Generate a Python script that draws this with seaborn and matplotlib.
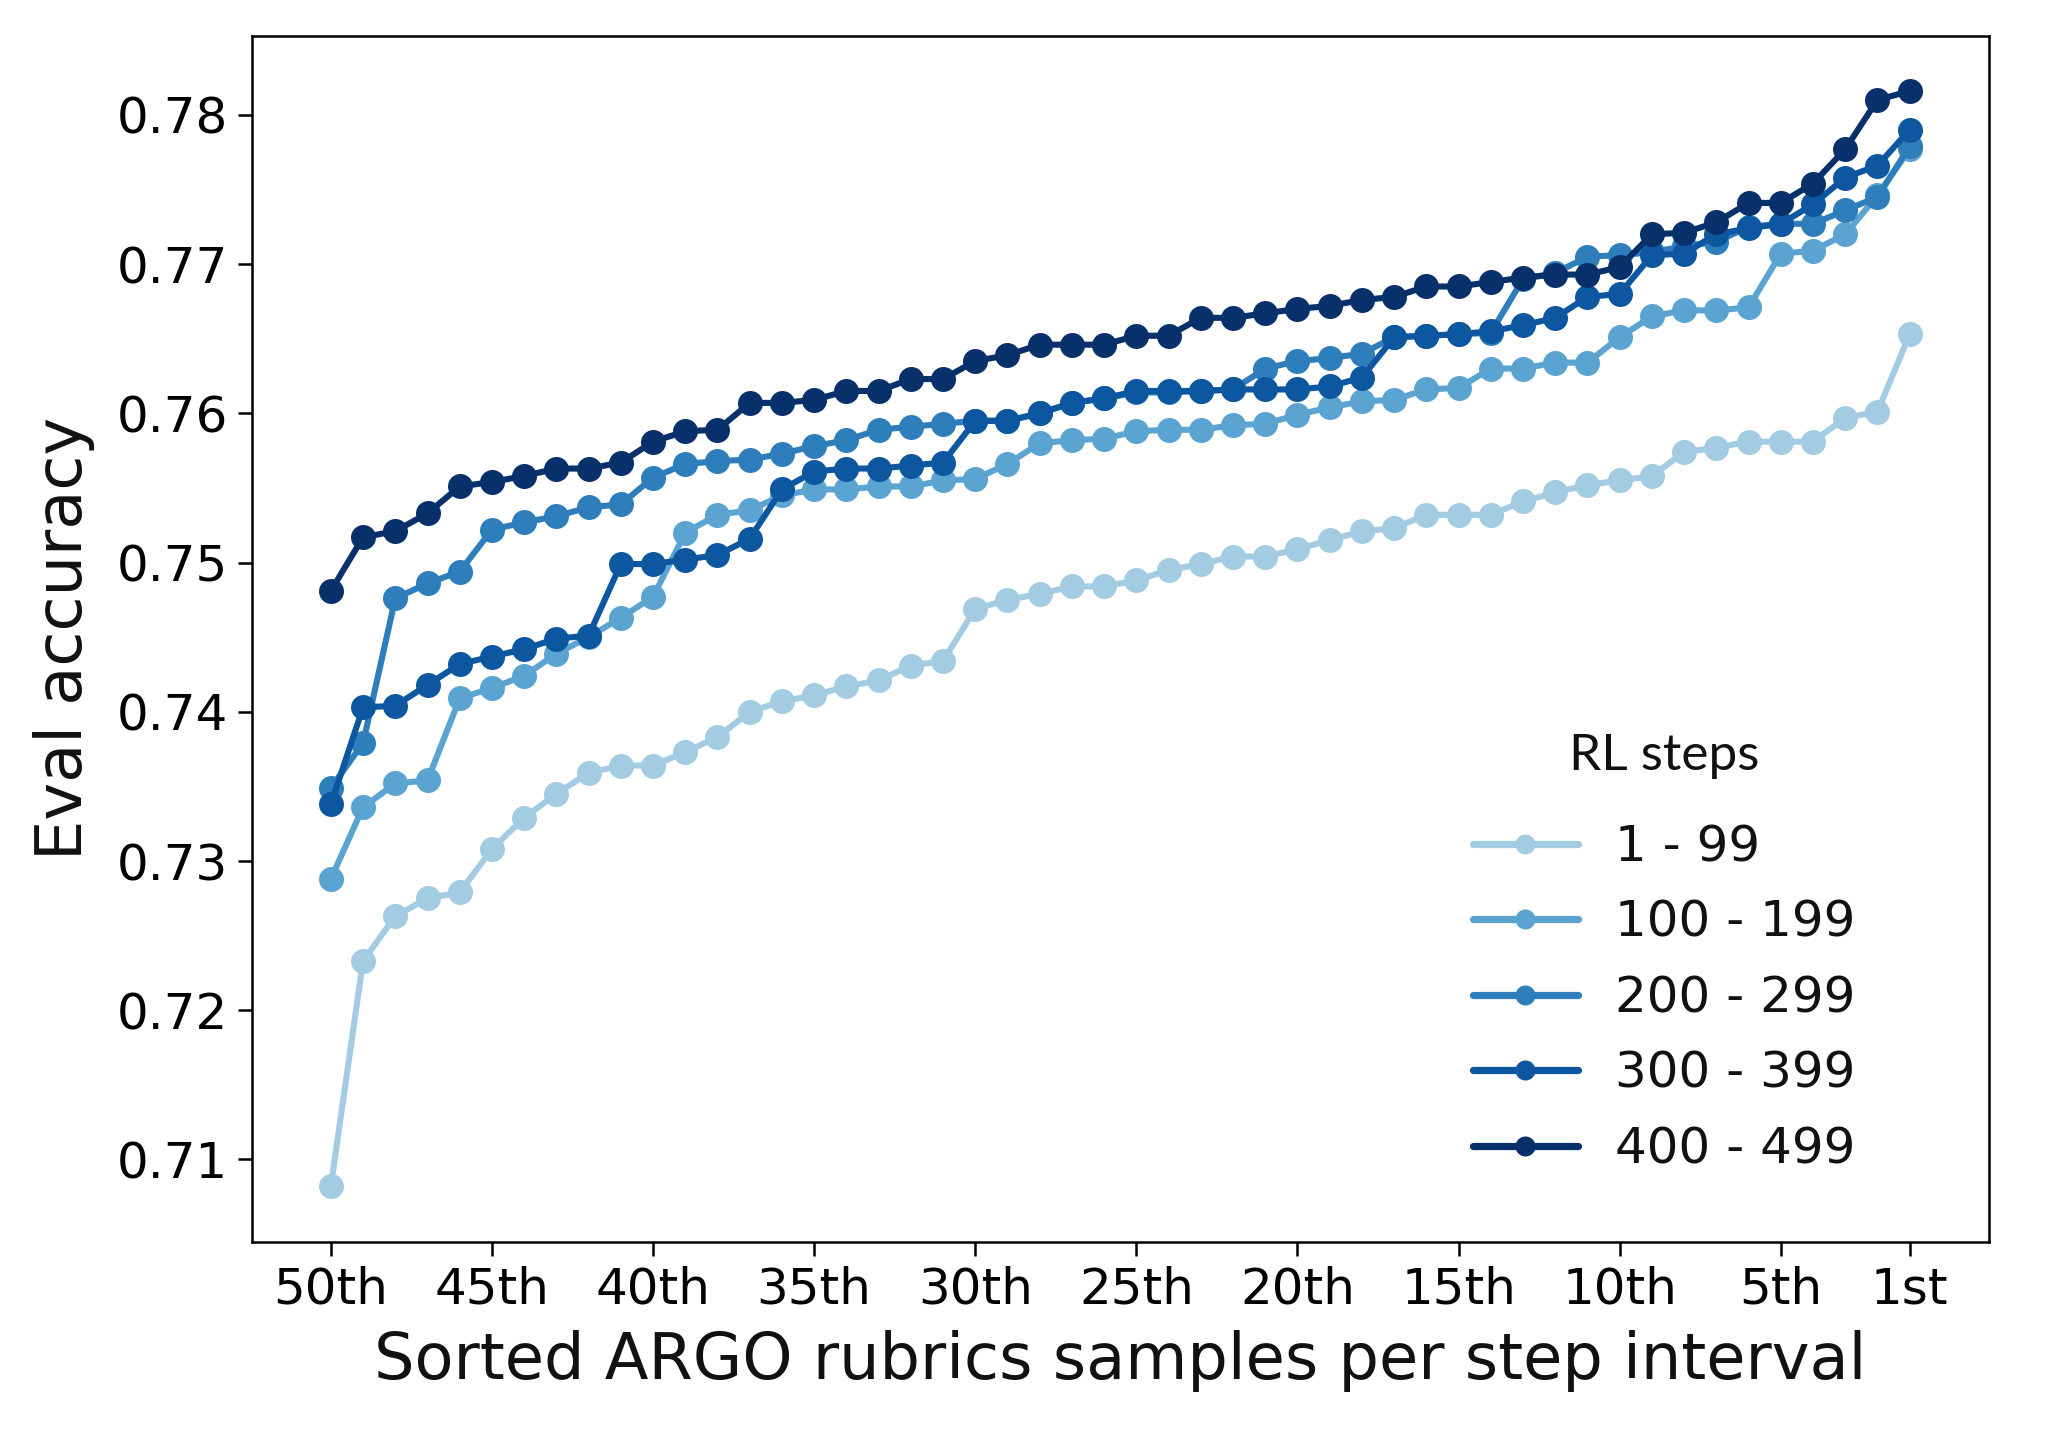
import numpy as np
import pandas as pd
import matplotlib
matplotlib.use("Agg")
import matplotlib.pyplot as plt
import seaborn as sns

# rank of the ARGO rubrics sample inside each step interval (50th ... 1st)
ranks = list(range(50, 0, -1))
tick_ranks = [50, 45, 40, 35, 30, 25, 20, 15, 10, 5, 1]
tick_labels = ["50th", "45th", "40th", "35th", "30th", "25th", "20th",
               "15th", "10th", "5th", "1st"]

step_groups = ["1 - 99", "100 - 199", "200 - 299", "300 - 399", "400 - 499"]

acc_1_99 = [0.7082, 0.7233, 0.7263, 0.7275, 0.7279, 0.7308, 0.7329, 0.7345, 0.7359, 0.7364,
            0.7364, 0.7373, 0.7383, 0.7400, 0.7407, 0.7411, 0.7417, 0.7421, 0.7431, 0.7434,
            0.7469, 0.7475, 0.7479, 0.7484, 0.7484, 0.7488, 0.7495, 0.7499, 0.7504, 0.7504,
            0.7509, 0.7515, 0.7521, 0.7523, 0.7532, 0.7532, 0.7532, 0.7541, 0.7547, 0.7552,
            0.7555, 0.7558, 0.7574, 0.7577, 0.7581, 0.7581, 0.7581, 0.7597, 0.7601, 0.7653]
acc_100_199 = [0.7288, 0.7336, 0.7352, 0.7354, 0.7409, 0.7416, 0.7424, 0.7439, 0.7450, 0.7463,
               0.7477, 0.7520, 0.7532, 0.7535, 0.7545, 0.7549, 0.7549, 0.7551, 0.7551, 0.7555,
               0.7556, 0.7566, 0.7580, 0.7582, 0.7583, 0.7588, 0.7589, 0.7589, 0.7592, 0.7593,
               0.7599, 0.7604, 0.7608, 0.7609, 0.7616, 0.7617, 0.7630, 0.7630, 0.7634, 0.7634,
               0.7651, 0.7665, 0.7669, 0.7669, 0.7671, 0.7707, 0.7709, 0.7720, 0.7746, 0.7777]
acc_200_299 = [0.7349, 0.7379, 0.7476, 0.7486, 0.7494, 0.7522, 0.7527, 0.7531, 0.7537, 0.7539,
               0.7557, 0.7566, 0.7568, 0.7569, 0.7573, 0.7578, 0.7582, 0.7589, 0.7591, 0.7593,
               0.7595, 0.7595, 0.7600, 0.7607, 0.7610, 0.7614, 0.7614, 0.7615, 0.7616, 0.7630,
               0.7635, 0.7637, 0.7640, 0.7651, 0.7652, 0.7653, 0.7654, 0.7690, 0.7694, 0.7705,
               0.7706, 0.7708, 0.7712, 0.7715, 0.7725, 0.7727, 0.7727, 0.7736, 0.7745, 0.7779]
acc_300_399 = [0.7338, 0.7403, 0.7404, 0.7418, 0.7432, 0.7437, 0.7442, 0.7449, 0.7451, 0.7499,
               0.7499, 0.7502, 0.7505, 0.7516, 0.7549, 0.7561, 0.7563, 0.7563, 0.7565, 0.7567,
               0.7595, 0.7595, 0.7600, 0.7607, 0.7610, 0.7615, 0.7615, 0.7615, 0.7616, 0.7616,
               0.7616, 0.7618, 0.7624, 0.7651, 0.7652, 0.7653, 0.7655, 0.7659, 0.7664, 0.7678,
               0.7680, 0.7706, 0.7707, 0.7720, 0.7724, 0.7727, 0.7740, 0.7758, 0.7766, 0.7790]
acc_400_499 = [0.7481, 0.7517, 0.7521, 0.7533, 0.7551, 0.7554, 0.7558, 0.7563, 0.7563, 0.7567,
               0.7581, 0.7588, 0.7589, 0.7607, 0.7607, 0.7609, 0.7615, 0.7615, 0.7623, 0.7623,
               0.7635, 0.7639, 0.7646, 0.7646, 0.7646, 0.7652, 0.7652, 0.7664, 0.7664, 0.7667,
               0.7670, 0.7672, 0.7676, 0.7678, 0.7685, 0.7685, 0.7688, 0.7691, 0.7693, 0.7693,
               0.7698, 0.7720, 0.7721, 0.7728, 0.7741, 0.7741, 0.7754, 0.7777, 0.7810, 0.7816]

y_ticks = [0.71, 0.72, 0.73, 0.74, 0.75, 0.76, 0.77, 0.78]


def main():
    series = [acc_1_99, acc_100_199, acc_200_299, acc_300_399, acc_400_499]
    # position on the x axis: 50th sample on the left, 1st on the right
    pos = [50 - r for r in ranks]
    rows = []
    for group, vals in zip(step_groups, series):
        for p, v in zip(pos, vals):
            rows.append({"pos": p, "acc": v, "RL steps": group})
    df = pd.DataFrame(rows)

    sns.set_theme(style="ticks")
    plt.rcParams["font.family"] = ["DejaVu Sans"]
    plt.rcParams["axes.edgecolor"] = "black"
    plt.rcParams["xtick.color"] = "black"
    plt.rcParams["ytick.color"] = "black"
    plt.rcParams["text.color"] = "#111111"
    plt.rcParams["axes.labelcolor"] = "#111111"

    blues = matplotlib.colormaps["Blues"]
    palette = [blues(v) for v in [0.36, 0.55, 0.7, 0.85, 1.0]]

    fig = plt.figure(figsize=(10.24, 7.16), dpi=200)
    ax = fig.add_axes([0.123, 0.133, 0.848, 0.842])

    sns.lineplot(data=df, x="pos", y="acc", hue="RL steps", hue_order=step_groups,
                 palette=palette, marker="o", markersize=9, markeredgewidth=0,
                 linewidth=2.2, sort=False, ax=ax)

    ax.set_ylim(0.7045, 0.7853)
    ax.set_yticks(y_ticks)
    ax.set_yticklabels([f"{t:.2f}" for t in y_ticks])
    ax.set_xticks([50 - r for r in tick_ranks])
    ax.set_xticklabels(tick_labels)
    ax.tick_params(axis="both", labelsize=18, length=5, width=0.9)
    for s in ax.spines.values():
        s.set_linewidth(0.9)

    ax.set_xlabel("Sorted ARGO rubrics samples per step interval", fontsize=23, labelpad=6)
    ax.set_ylabel("Eval accuracy", fontsize=23, labelpad=8)

    leg = ax.legend(title="RL steps", loc="lower right", bbox_to_anchor=(0.935, 0.04),
                    frameon=False, fontsize=18, title_fontsize=18.5,
                    handlelength=2.1, handletextpad=0.75, markerscale=0.8,
                    labelspacing=0.55, borderaxespad=0)
    leg.get_title().set_family(["Lato", "DejaVu Sans"])
    leg._legend_box.sep = 16
    for ln in leg.get_lines():
        ln.set_linewidth(2.6)

    fig.savefig("out.png", dpi=200)


if __name__ == "__main__":
    main()
